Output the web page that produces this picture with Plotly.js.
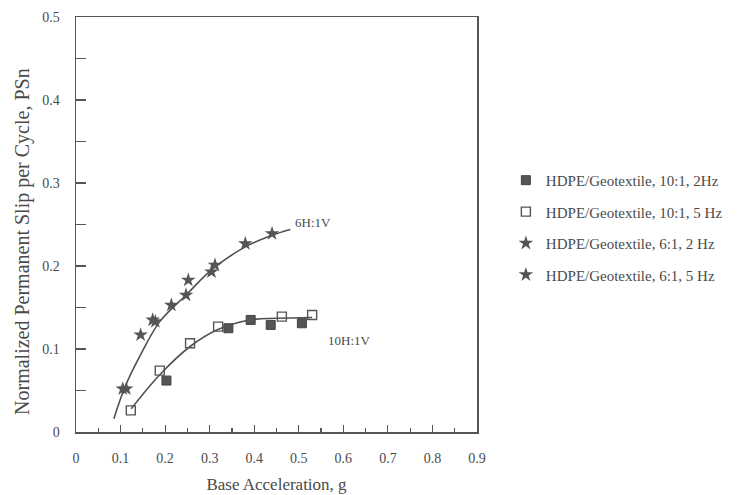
<!DOCTYPE html>
<html>
<head>
<meta charset="utf-8">
<script src="https://cdn.plot.ly/plotly-3.0.1.min.js"></script>
<style>
  html, body { margin: 0; padding: 0; background: #ffffff; }
  #chart { width: 755px; height: 495px; }
</style>
</head>
<body>
<div id="chart"></div>
<script>
// Measured points: HDPE / geotextile interface, slip per cycle vs base acceleration
const accel_10to1_2Hz = [0.203, 0.342, 0.392, 0.437, 0.507];
const slip_10to1_2Hz  = [0.062, 0.125, 0.135, 0.129, 0.131];

const accel_10to1_5Hz = [0.123, 0.188, 0.256, 0.319, 0.462, 0.530];
const slip_10to1_5Hz  = [0.026, 0.074, 0.107, 0.127, 0.139, 0.141];

const accel_6to1_2Hz = [0.105, 0.172, 0.247, 0.304, 0.380];
const slip_6to1_2Hz  = [0.052, 0.135, 0.165, 0.193, 0.227];

const accel_6to1_5Hz = [0.113, 0.145, 0.178, 0.214, 0.252, 0.312, 0.440];
const slip_6to1_5Hz  = [0.052, 0.117, 0.133, 0.153, 0.183, 0.201, 0.239];

// Hand-drawn trend curves through each slope group
const curve6H_x = [0.085, 0.109, 0.143, 0.188, 0.247, 0.308, 0.380, 0.440, 0.481];
const curve6H_y = [0.016, 0.053, 0.091, 0.133, 0.165, 0.197, 0.223, 0.237, 0.244];

const curve10H_x = [0.124, 0.188, 0.256, 0.316, 0.391, 0.450, 0.530];
const curve10H_y = [0.028, 0.069, 0.103, 0.123, 0.135, 0.137, 0.138];

const legendNames = [
  'HDPE/Geotextile, 10:1, 2Hz',
  'HDPE/Geotextile, 10:1, 5 Hz',
  'HDPE/Geotextile, 6:1, 2 Hz',
  'HDPE/Geotextile, 6:1, 5 Hz'
];

const curveLabels = ['6H:1V', '10H:1V'];
const curveLabelX = [0.488, 0.560];
const curveLabelY = [0.253, 0.110];

const xTickVals = [0, 0.1, 0.2, 0.3, 0.4, 0.5, 0.6, 0.7, 0.8, 0.9];
const xTickText = ['0', '0.1', '0.2', '0.3', '0.4', '0.5', '0.6', '0.7', '0.8', '0.9'];
const yTickVals = [0, 0.1, 0.2, 0.3, 0.4, 0.5];
const yTickText = ['0', '0.1', '0.2', '0.3', '0.4', '0.5'];

const ink = '#4a4a4a';
const serif = 'Liberation Serif, Times New Roman, serif';

const lineStyle = { color: '#505050', width: 1.6, shape: 'spline', smoothing: 1.0 };

const traces = [
  { x: curve6H_x, y: curve6H_y, mode: 'lines', line: lineStyle,
    showlegend: false, hoverinfo: 'skip' },
  { x: curve10H_x, y: curve10H_y, mode: 'lines', line: lineStyle,
    showlegend: false, hoverinfo: 'skip' },
  { x: accel_10to1_2Hz, y: slip_10to1_2Hz, mode: 'markers', name: legendNames[0],
    legendgroup: 'a',
    marker: { symbol: 'square', size: 9, color: '#555555', line: { color: '#444444', width: 1 } } },
  { x: accel_10to1_5Hz, y: slip_10to1_5Hz, mode: 'markers', name: legendNames[1],
    legendgroup: 'b',
    marker: { symbol: 'square-open', size: 9, color: '#555555', line: { width: 1.4 } } },
  { x: accel_6to1_2Hz, y: slip_6to1_2Hz, mode: 'markers', name: legendNames[2],
    legendgroup: 'c',
    marker: { symbol: 'star', size: 11, color: '#555555', line: { width: 0 } } },
  { x: accel_6to1_5Hz, y: slip_6to1_5Hz, mode: 'markers', name: legendNames[3],
    legendgroup: 'd',
    marker: { symbol: 'star', size: 11, color: '#555555', line: { width: 0 } } }
];

const annotations = curveLabels.map((t, i) => ({
  text: t, x: curveLabelX[i], y: curveLabelY[i], xref: 'x', yref: 'y',
  xanchor: 'left', yanchor: 'middle', showarrow: false,
  font: { family: serif, size: 13, color: ink }
}));

// Vertical axis title, placed along the left margin
annotations.push({
  text: 'Normalized Permanent Slip per Cycle, PSn',
  xref: 'paper', yref: 'paper', x: -0.135, y: 0.46,
  xanchor: 'center', yanchor: 'middle', textangle: -90, showarrow: false,
  font: { family: serif, size: 20, color: ink }
});

const layout = {
  width: 755, height: 495,
  margin: { l: 76, r: 278, t: 17, b: 63 },
  paper_bgcolor: '#ffffff', plot_bgcolor: '#ffffff',
  font: { family: serif, color: ink, size: 13 },
  showlegend: true,
  legend: {
    x: 1.072, y: 0.646, xanchor: 'left', yanchor: 'top',
    traceorder: 'grouped', tracegroupgap: 9, itemwidth: 30,
    font: { family: serif, size: 15, color: ink },
    bgcolor: 'rgba(0,0,0,0)'
  },
  xaxis: {
    range: [0, 0.9], tickvals: xTickVals, ticktext: xTickText,
    ticks: 'inside', ticklen: 7, tickwidth: 1.2, tickcolor: '#555555',
    minor: { dtick: 0.05, ticks: 'inside', ticklen: 4, tickwidth: 1.2, tickcolor: '#555555', showgrid: false },
    showline: true, linecolor: '#555555', linewidth: 1.5, mirror: true,
    showgrid: false, zeroline: false, ticklabelstandoff: 13,
    tickfont: { family: serif, size: 14, color: ink },
    title: { text: 'Base Acceleration, g', standoff: 13,
             font: { family: serif, size: 17, color: ink } }
  },
  yaxis: {
    range: [0, 0.5], tickvals: yTickVals, ticktext: yTickText,
    ticks: 'inside', ticklen: 10, tickwidth: 1.2, tickcolor: '#555555',
    minor: { dtick: 0.05, ticks: 'inside', ticklen: 10, tickwidth: 1.2, tickcolor: '#555555', showgrid: false },
    showline: true, linecolor: '#555555', linewidth: 1.5, mirror: true,
    showgrid: false, zeroline: false, ticklabelstandoff: 12,
    tickfont: { family: serif, size: 14, color: ink }
  },
  annotations: annotations
};

Plotly.newPlot('chart', traces, layout, { displayModeBar: false, staticPlot: true });
</script>
</body>
</html>
